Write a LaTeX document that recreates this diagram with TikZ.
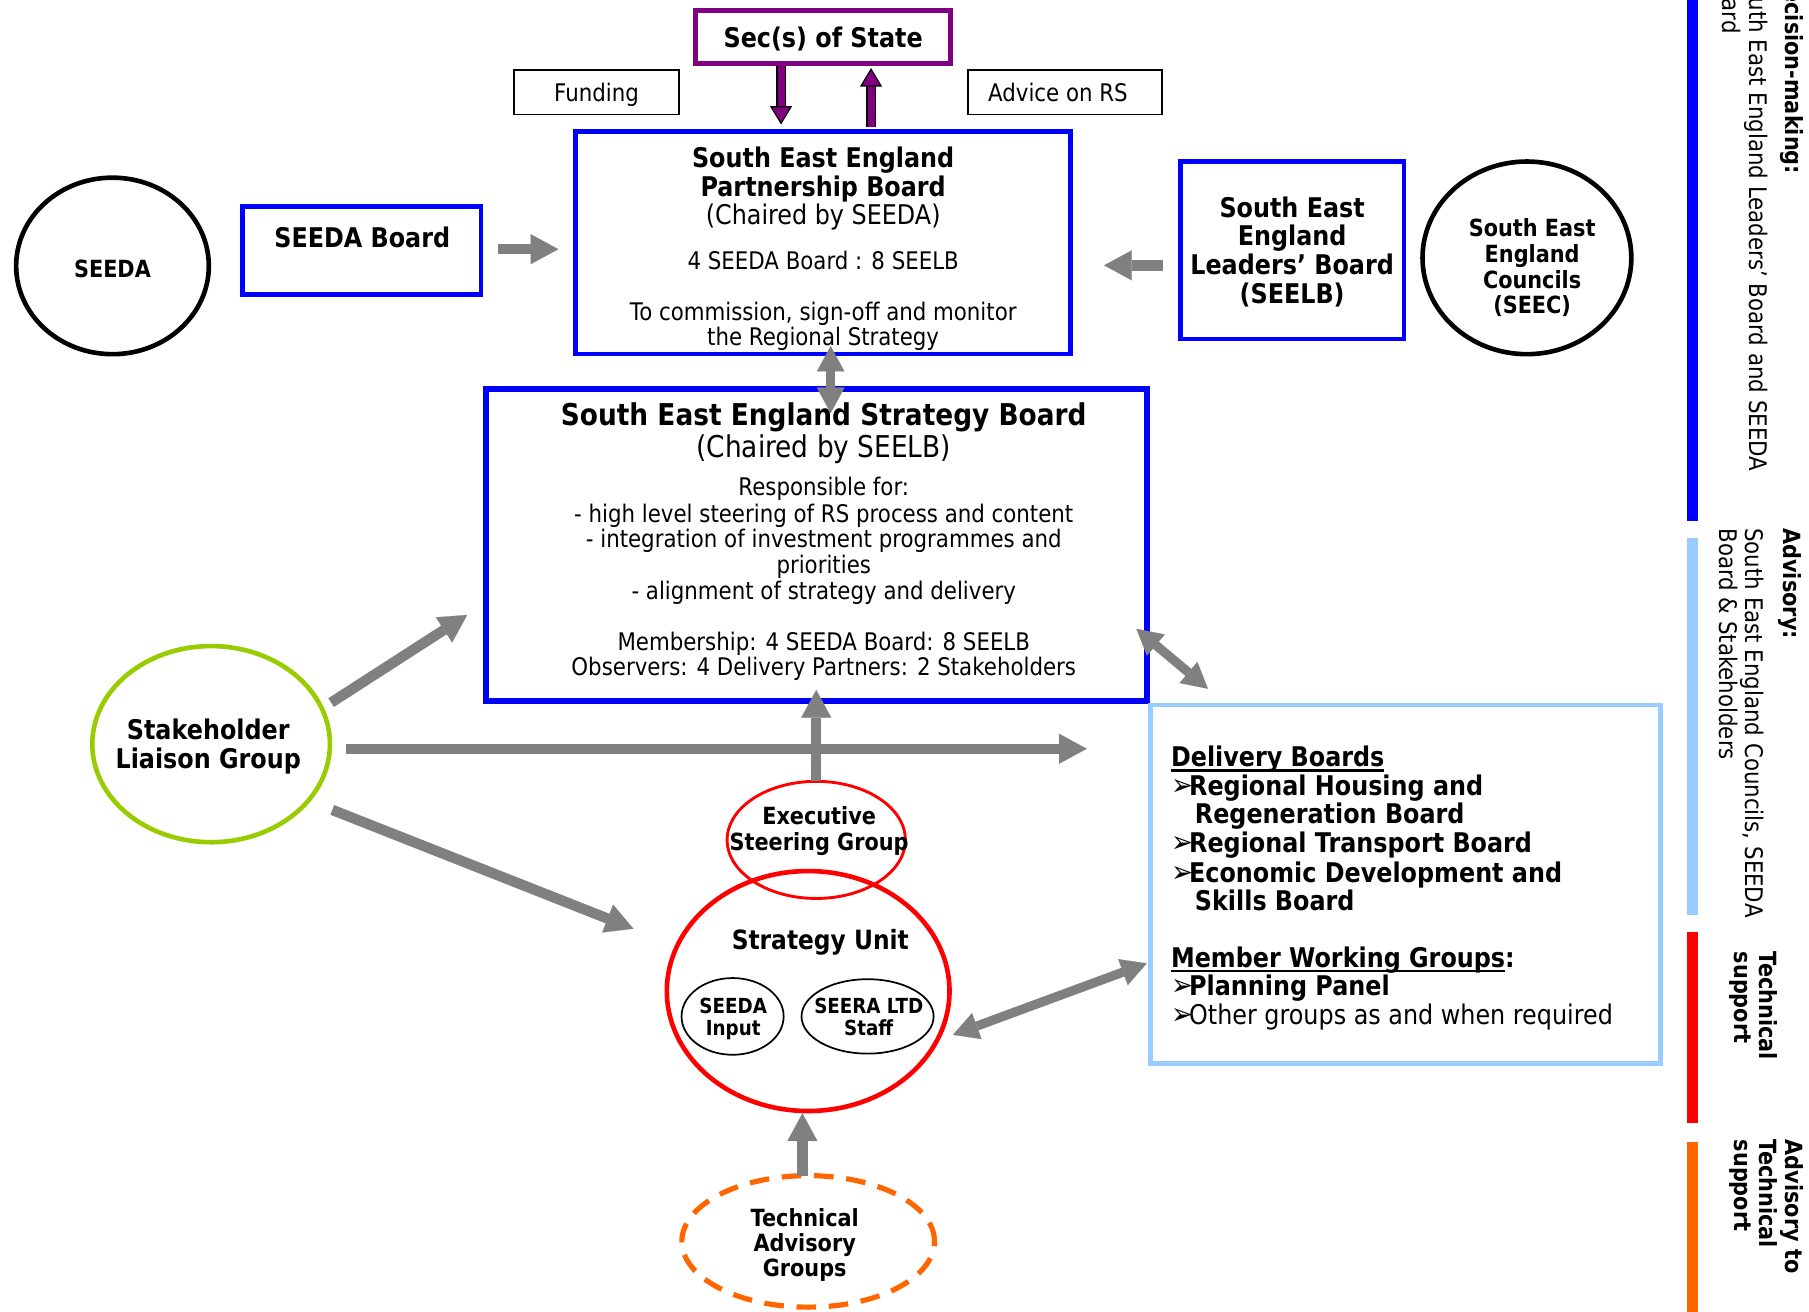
\documentclass[tikz,border=0pt]{standalone}
\usepackage{fontspec}
\setmainfont{DejaVu Sans}[FakeStretch=0.88]
\usetikzlibrary{shapes.geometric,arrows.meta,calc}
\definecolor{pcol}{RGB}{128,0,128}
\definecolor{bcol}{RGB}{0,0,255}
\definecolor{lbcol}{RGB}{153,204,255}
\definecolor{gcol}{RGB}{128,128,128}
\definecolor{grcol}{RGB}{153,204,0}
\definecolor{rcol}{RGB}{255,0,0}
\definecolor{ocol}{RGB}{255,102,0}
\newcommand\fsz[1]{\fontsize{#1pt}{#1pt}\selectfont}
\newcommand\rgap[1]{\cr\noalign{\vskip#1pt}}
\newcommand\ctext[3]{\raisebox{#2pt}[0pt][0pt]{\makebox[0pt]{\hspace*{#1pt}\hspace*{#1pt}\vbox{\baselineskip=0pt\lineskip=0pt\lineskiplimit=-1000pt\halign{\hfil##\hfil\cr#3\crcr}}}}}
\newcommand\ltext[3]{\raisebox{#2pt}[0pt][0pt]{\makebox[0pt][l]{\hspace*{#1pt}\vbox{\baselineskip=0pt\lineskip=0pt\lineskiplimit=-1000pt\halign{##\hfil\cr#3\crcr}}}}}
\newsavebox\ulbox
\newcommand\myul[1]{\sbox\ulbox{#1}\rlap{\rule[-4pt]{\wd\ulbox}{2pt}}\usebox\ulbox}
\newcommand\bulp{\makebox[15.7pt][l]{\mdseries\fsz{26}➢}}
\begin{document}
\begin{tikzpicture}[x=1pt,y=-1pt,
  every node/.style={inner sep=0pt, outer sep=0pt, font=\fsz{21}},
  bluebox/.style={rectangle, draw=bcol, line width=4pt},
  thinbox/.style={rectangle, draw=black, line width=1.5pt},
  oval/.style={ellipse, draw=black, line width=4pt},
  garrow/.style={draw=gcol, line width=9pt, -{Triangle[width=26pt,length=24pt,line width=0.1pt]}},
  gdarrow/.style={draw=gcol, line width=8pt, {Triangle[width=24pt,length=22pt,line width=0.1pt]}-{Triangle[width=24pt,length=22pt,line width=0.1pt]}},
  parrow/.style={draw=pcol, line width=6pt, -{Triangle[width=19pt,length=16pt,fill=pcol,color=black,line width=1pt]}},
  pline/.style={draw=black, line width=8pt},
  sidetext/.style={rotate=-90}
]
\useasboundingbox (0,0) rectangle (1568,1137);

% top boxes
\node[rectangle, draw=pcol, line width=4pt, minimum width=221pt, minimum height=46pt] (sec) at (713.5,32)
  {\ctext{0}{-8.8}{\bfseries\fsz{23.5}Sec(s) of State}};
\node[thinbox, minimum width=142.5pt, minimum height=38.5pt] (fund) at (517,80) {\ctext{0}{-8}{Funding}};
\node[thinbox, minimum width=168.5pt, minimum height=38.5pt] (adv) at (923,80) {\ctext{-6}{-8}{Advice on RS}};

\node[bluebox, minimum width=429pt, minimum height=193pt] (pb) at (713.5,210.5)
  {\ctext{0}{-89.4}{\bfseries\fsz{23.5}South East England\rgap{25}\bfseries\fsz{23.5}Partnership Board\rgap{25}\fsz{23.5}(Chaired by SEEDA)\rgap{39}4 SEEDA Board : 8 SEELB\rgap{44}To commission, sign-off and monitor\rgap{22}the Regional Strategy}};

\node[oval, minimum width=167pt, minimum height=153pt, font=\bfseries\fsz{20.5}] (seeda) at (97.5,230.5) {\ctext{0}{-9.9}{SEEDA}};
\node[bluebox, minimum width=207pt, minimum height=76pt, font=\bfseries\fsz{23.5}] (sboard) at (313.5,217) {\ctext{0.5}{2.2}{SEEDA Board}};
\node[bluebox, minimum width=194pt, minimum height=154pt, font=\bfseries\fsz{23.5}] (seelb) at (1120,217)
  {\ctext{0}{-45.8}{South East\rgap{24}England\rgap{25}Leaders’ Board\rgap{25}(SEELB)}};
\node[oval, minimum width=181pt, minimum height=167pt, font=\bfseries\fsz{20.5}] (seec) at (1323.5,223.5)
  {\ctext{4.5}{-48.3}{South East\rgap{23}England\rgap{22}Councils\rgap{22}(SEEC)}};

% strategy board
\node[bluebox, line width=5pt, minimum width=573pt, minimum height=270pt] (stb) at (708,472.5)
  {\ctext{6}{-113.4}{\bfseries\fsz{26}South East England Strategy Board\rgap{28}\fsz{26}(Chaired by SEELB)\rgap{33.3}Responsible for:\rgap{23}- high level steering of RS process and content\rgap{22}- integration of investment programmes and\rgap{22}priorities\rgap{23}- alignment of strategy and delivery\rgap{44}Membership: 4 SEEDA Board: 8 SEELB\rgap{22}Observers: 4 Delivery Partners: 2 Stakeholders}};

\node[oval, draw=grcol, minimum width=206pt, minimum height=170pt, font=\bfseries\fsz{23.5}] (slg) at (183,645)
  {\ctext{-2.5}{-20.8}{Stakeholder\rgap{25}Liaison Group}};

\node[ellipse, draw=rcol, line width=2.5pt, minimum width=154.5pt, minimum height=101.5pt, font=\bfseries\fsz{20.5}] (esg) at (707.5,728)
  {\ctext{2.5}{-8.8}{Executive\rgap{22}Steering Group}};
\node[oval, draw=rcol, minimum width=245pt, minimum height=208pt, font=\bfseries\fsz{23}] (su) at (700.5,859)
  {\ctext{10.5}{36.4}{Strategy Unit}};
\node[ellipse, draw=black, line width=1.5pt, minimum width=88.5pt, minimum height=66.5pt, font=\bfseries\fsz{18}] (si) at (635,881)
  {\ctext{0.5}{-16.5}{SEEDA\rgap{19}Input}};
\node[ellipse, draw=black, line width=1.5pt, minimum width=114.5pt, minimum height=64.5pt, font=\bfseries\fsz{18}] (ss) at (752,881)
  {\ctext{1}{-16.5}{SEERA LTD\rgap{19}Staff}};
\node[oval, draw=ocol, line width=4.5pt, dash pattern=on 17pt off 11pt, minimum width=219pt, minimum height=114pt, font=\bfseries\fsz{20.5}] (tag) at (700.5,1076)
  {\ctext{-3}{-30.8}{Technical\rgap{22}Advisory\rgap{22}Groups}};

\node[rectangle, draw=lbcol, line width=4pt, minimum width=442pt, minimum height=311pt, font=\fsz{23.5}] (dlb) at (1218,766.5)
  {\ltext{-203}{-121.3}{\bfseries\myul{Delivery Boards}\rgap{25}\bulp\bfseries Regional Housing and\rgap{24}\bfseries\hspace*{20.7pt}Regeneration Board\rgap{25}\bulp\bfseries Regional Transport Board\rgap{26}\bulp\bfseries Economic Development and\rgap{24}\bfseries\hspace*{20.7pt}Skills Board\rgap{50}\bfseries\myul{Member Working Groups}:\rgap{24}\bulp\bfseries Planning Panel\rgap{25}\bulp Other groups as and when required}};

% side bars
\fill[bcol] (1462.5,-5) rectangle (1471.5,452);
\fill[lbcol] (1462.5,466) rectangle (1471.5,793);
\fill[rcol] (1462.5,808) rectangle (1471.5,973);
\fill[ocol] (1462.5,990) rectangle (1471.5,1142);

\node[sidetext] (tdec) at (1493,-25) {\ltext{0}{0}{\bfseries\fsz{20.5}Decision-making:\rgap{32}South East England Leaders’ Board and SEEDA\rgap{23}Board}};
\node[sidetext] (tadv) at (1490,458) {\ltext{0}{0}{\bfseries\fsz{20.5}Advisory:\rgap{33}South East England Councils, SEEDA\rgap{23}Board \& Stakeholders}};
\node[sidetext, font=\bfseries\fsz{20.5}] (ttech) at (1503,825) {\ltext{0}{0}{Technical\rgap{22}support}};
\node[sidetext, font=\bfseries\fsz{20.5}] (tadvt) at (1503,988) {\ltext{0}{0}{Advisory to\rgap{23}Technical\rgap{22}support}};

% purple arrows
\draw[pline, shorten <=2pt, shorten >=20pt] ($(sec.south)+(-36.5,0)$) -- ($(sec.south |- pb.north)+(-36.5,0)$);
\draw[parrow, shorten <=2pt, shorten >=6pt] ($(sec.south)+(-36.5,0)$) -- ($(sec.south |- pb.north)+(-36.5,0)$);
\draw[pline, shorten <=4pt, shorten >=18pt] ($(pb.north)+(41.5,0)$) -- ($(pb.north |- sec.south)+(41.5,0)$);
\draw[parrow, shorten <=4pt, shorten >=4pt] ($(pb.north)+(41.5,0)$) -- ($(pb.north |- sec.south)+(41.5,0)$);

% gray arrows
\draw[garrow, shorten <=15pt, shorten >=15pt] ($(sboard.east)+(0,-1)$) -- ($(sboard.east -| pb.west)+(0,-1)$);
\draw[garrow, shorten <=15pt, shorten >=29pt] ($(seelb.west)+(0,13)$) -- ($(seelb.west -| pb.east)+(0,13)$);
\draw[gdarrow, shorten <=-7pt, shorten >=-20.5pt] ($(pb.south)+(6.5,0)$) -- ($(pb.south |- stb.north)+(6.5,0)$);
\draw[garrow] ($(slg.center)+(104,-36)$) -- ($(stb.west)+(-16.5,60.5)$);
\draw[garrow, shorten <=14pt, shorten >=55pt] ($(slg.east)+(0,4)$) -- ($(slg.east -| dlb.west)+(0,4)$);
\draw[garrow] ($(slg.center)+(105,57)$) -- ($(su.center)+(-151.5,-54)$);
\draw[garrow, shorten >=-9.5pt] (esg.north) -- (esg.north |- stb.south);
\draw[gdarrow] ($(stb.east)+(-9.5,72.5)$) -- ($(dlb.north west)+(50,-14)$);
\draw[gdarrow] ($(su.center)+(125.5,38)$) -- ($(dlb.west)+(-3,68.5)$);
\draw[garrow, shorten >=2pt] ($(tag.north)+(-5,0)$) -- ($(tag.north |- su.south)+(-5,0)$);
\end{tikzpicture}
\end{document}
